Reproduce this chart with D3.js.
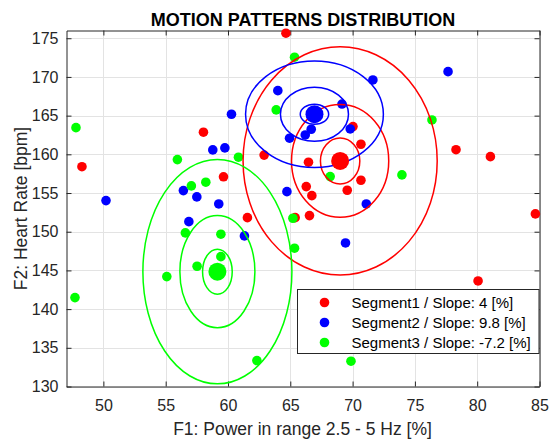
<!DOCTYPE html>
<html>
<head>
<meta charset="utf-8">
<script src="https://cdn.jsdelivr.net/npm/d3@7"></script>
<style>
  body { margin: 0; background: #fff; }
  svg { display: block; font-family: "Liberation Sans", Arial, sans-serif; }
</style>
</head>
<body>
<svg id="chart" width="549" height="439"></svg>
<script>
// data
const segmentNames = ['Segment1 / Slope: 4 [%]', 'Segment2 / Slope: 9.8 [%]', 'Segment3 / Slope: -7.2 [%]'];

const seg1X = [64.65, 58.03, 48.28, 59.64, 62.9, 66.46, 66.28, 66.73, 66.54, 65.39, 70.03, 70.67, 70.67, 69.57, 78.3, 81.06, 84.67, 80.07, 61.56];
const seg1Y = [175.65, 162.86, 158.4, 157.1, 159.9, 158.98, 155.83, 154.66, 152.08, 151.82, 163.58, 161.3, 156.65, 155.36, 160.6, 159.7, 152.3, 143.64, 151.82];

const seg2X = [64.0, 60.28, 58.78, 59.75, 64.94, 66.2, 64.73, 50.21, 56.42, 57.5, 59.26, 56.86, 61.32, 71.63, 77.66, 66.68, 69.81, 69.15, 71.1, 69.43];
const seg2Y = [168.23, 165.18, 160.57, 160.83, 162.08, 162.5, 155.18, 154.02, 155.31, 154.5, 153.59, 151.3, 149.46, 169.61, 170.68, 163.24, 163.28, 166.5, 153.59, 148.55];

const seg3X = [47.8, 65.34, 63.87, 55.94, 60.84, 58.22, 57.06, 68.2, 73.96, 76.37, 47.72, 55.09, 56.58, 59.43, 59.43, 57.52, 62.32, 65.21, 65.34, 69.87];
const seg3Y = [163.45, 172.55, 165.74, 159.32, 159.63, 156.4, 155.92, 157.12, 157.34, 164.44, 141.49, 144.2, 149.85, 149.68, 146.78, 145.54, 133.35, 151.74, 147.87, 133.27];

// cluster centres and contour half-axes (three levels each)
const centerX = [69.0, 66.94, 59.15];
const centerY = [159.15, 165.18, 144.84];
const radiusX = [[1.58, 3.9, 7.79], [1.14, 2.73, 5.53], [1.19, 3.01, 5.98]];
const radiusY = [[2.97, 7.28, 14.75], [1.29, 3.49, 6.89], [2.91, 7.24, 14.5]];

const xTicks = [50, 55, 60, 65, 70, 75, 80, 85];
const yTicks = [130, 135, 140, 145, 150, 155, 160, 165, 170, 175];

const colors = ['#ff0000', '#0000ff', '#00ff00'];

let svg = d3.select('#chart');

let x = d3.scaleLinear().domain([47.04, 85]).range([66.5, 539.5]);
let y = d3.scaleLinear().domain([130, 176]).range([386.5, 30.5]);

let plotLeft = x.range()[0], plotRight = x.range()[1];
let plotTop = y.range()[1], plotBottom = y.range()[0];

// grid
svg.append('g')
  .selectAll('line')
  .data(xTicks)
  .enter()
  .append('line')
  .attr('x1', d => Math.round(x(d)) + 0.5)
  .attr('x2', d => Math.round(x(d)) + 0.5)
  .attr('y1', plotTop)
  .attr('y2', plotBottom)
  .attr('stroke', '#e3e3e3');

svg.append('g')
  .selectAll('line')
  .data(yTicks)
  .enter()
  .append('line')
  .attr('y1', d => Math.round(y(d)) + 0.5)
  .attr('y2', d => Math.round(y(d)) + 0.5)
  .attr('x1', plotLeft)
  .attr('x2', plotRight)
  .attr('stroke', '#e3e3e3');

// axes (ticks inside, all four sides)
let axisFont = g => g.selectAll('text')
  .style('font-size', '16px')
  .style('font-family', '"Liberation Sans", Arial, sans-serif')
  .attr('fill', '#262626');

svg.append('g')
  .attr('transform', `translate(0,${plotBottom})`)
  .call(d3.axisBottom(x).tickValues(xTicks).tickSizeInner(-5).tickSizeOuter(0).tickPadding(13))
  .call(axisFont)
  .call(g => g.select('.domain').attr('stroke', '#262626'))
  .call(g => g.selectAll('.tick line').attr('stroke', '#262626'));

svg.append('g')
  .attr('transform', `translate(0,${plotTop})`)
  .call(d3.axisTop(x).tickValues(xTicks).tickSizeInner(-5).tickSizeOuter(0).tickFormat(''))
  .call(g => g.select('.domain').attr('stroke', '#262626'))
  .call(g => g.selectAll('.tick line').attr('stroke', '#262626'));

svg.append('g')
  .attr('transform', `translate(${plotLeft},0)`)
  .call(d3.axisLeft(y).tickValues(yTicks).tickSizeInner(-5).tickSizeOuter(0).tickPadding(8))
  .call(axisFont)
  .call(g => g.select('.domain').attr('stroke', '#262626'))
  .call(g => g.selectAll('.tick line').attr('stroke', '#262626'));

svg.append('g')
  .attr('transform', `translate(${plotRight},0)`)
  .call(d3.axisRight(y).tickValues(yTicks).tickSizeInner(-5).tickSizeOuter(0).tickFormat(''))
  .call(g => g.select('.domain').attr('stroke', '#262626'))
  .call(g => g.selectAll('.tick line').attr('stroke', '#262626'));

// points
let segX = [seg1X, seg2X, seg3X];
let segY = [seg1Y, seg2Y, seg3Y];

let plot = svg.append('g');

segX.forEach((xs, i) => {
  plot.append('g')
    .selectAll('circle')
    .data(xs.map((v, j) => [v, segY[i][j]]))
    .enter()
    .append('circle')
    .attr('cx', d => x(d[0]))
    .attr('cy', d => y(d[1]))
    .attr('r', 4.8)
    .attr('fill', colors[i]);
});

// contour ellipses
segX.forEach((xs, i) => {
  plot.append('g')
    .selectAll('ellipse')
    .data(radiusX[i].map((rx, k) => [rx, radiusY[i][k]]))
    .enter()
    .append('ellipse')
    .attr('cx', x(centerX[i]))
    .attr('cy', y(centerY[i]))
    .attr('rx', d => x(centerX[i] + d[0]) - x(centerX[i]))
    .attr('ry', d => y(centerY[i]) - y(centerY[i] + d[1]))
    .attr('fill', 'none')
    .attr('stroke', colors[i])
    .attr('stroke-width', 1.5);
});

// centres
plot.append('g')
  .selectAll('circle')
  .data(centerX)
  .enter()
  .append('circle')
  .attr('cx', d => x(d))
  .attr('cy', (d, i) => y(centerY[i]))
  .attr('r', 9)
  .attr('fill', (d, i) => colors[i]);

// title and labels
svg.append('text')
  .attr('x', 303)
  .attr('y', 26)
  .attr('text-anchor', 'middle')
  .style('font-size', '18px')
  .style('font-weight', 'bold')
  .attr('fill', '#000')
  .text('MOTION PATTERNS DISTRIBUTION');

svg.append('text')
  .attr('x', 302.5)
  .attr('y', 435)
  .attr('text-anchor', 'middle')
  .style('font-size', '17.5px')
  .attr('fill', '#262626')
  .text('F1: Power in range 2.5 - 5 Hz [%]');

svg.append('text')
  .attr('transform', `translate(26.5,${(plotTop + plotBottom) / 2}) rotate(-90)`)
  .attr('text-anchor', 'middle')
  .style('font-size', '17.5px')
  .attr('fill', '#262626')
  .text('F2: Heart Rate [bpm]');

// legend
let legend = svg.append('g').attr('transform', 'translate(297.5,289.5)');

legend.append('rect')
  .attr('width', 241.5)
  .attr('height', 64)
  .attr('fill', '#fff')
  .attr('stroke', '#262626');

let item = legend.selectAll('.item')
  .data(segmentNames)
  .enter()
  .append('g')
  .attr('class', 'item')
  .attr('transform', (d, i) => `translate(0,${13 + i * 20})`);

item.append('circle')
  .attr('cx', 27)
  .attr('r', 4.8)
  .attr('fill', (d, i) => colors[i]);

item.append('text')
  .attr('x', 54)
  .attr('dy', '0.35em')
  .style('font-size', '15px')
  .attr('fill', '#000')
  .text(d => d);
</script>
</body>
</html>
